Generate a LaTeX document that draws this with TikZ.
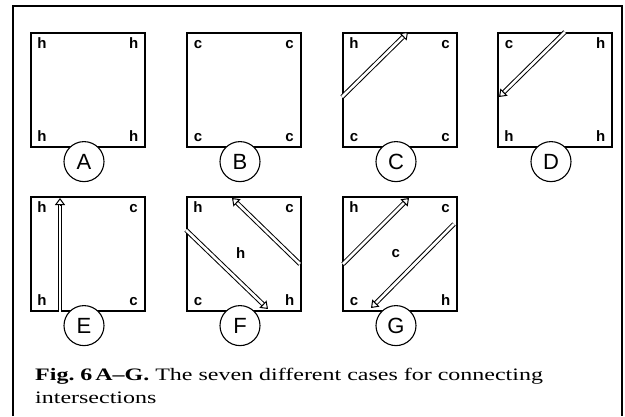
\documentclass[tikz,border=0pt]{standalone}
\usepackage{fontspec}
\setmainfont{Liberation Serif}
\setsansfont{Liberation Sans}
\newfontfamily\capfont[FakeStretch=1.37, Ligatures=TeX]{Liberation Serif}
\usetikzlibrary{arrows.meta,calc}

\newcommand\hollowarrow[2]{%
\draw[arrow shaft, shorten >=5pt] (#1) -- (#2);
\draw[arrow head] ($(#2)!7pt!(#1)$) -- (#2);
}

\begin{document}
\begin{tikzpicture}[x=1pt, y=-1pt,
  box/.style={draw, line width=1.6pt, minimum size=114pt, inner sep=0pt, anchor=north west},
  corner/.style={font=\fontsize{15}{15}\sffamily\bfseries, anchor=base, inner sep=0pt},
  tag/.style={circle, draw, fill=white, line width=1.1pt, minimum size=40pt, inner sep=0pt, font=\fontsize{22}{22}\sffamily},
  arrow shaft/.style={double=white, double distance=2.6pt, line width=1pt},
  arrow head/.style={line width=1pt, -{Triangle[length=7pt, width=10pt, fill=white]}},
  frame/.style={line width=1.3pt}]
\useasboundingbox (0,0) rectangle (625,416);
\draw[frame] (13,416) -- (13,6) -- (622,6) -- (622,416);
\foreach \n/\x/\y/\tl/\tr/\bl/\br in {A/30/32/h/h/h/h, B/186/32/c/c/c/c, C/342/32/h/c/c/c, D/497/32/c/h/h/h,
    E/30/196/h/c/h/c, F/186/196/h/c/c/h, G/342/196/h/c/c/h} {
  \node[box] (\n) at (\x,\y) {};
  \node[corner] (\n-tl) at ($(\n.north west)+(12,16)$) {\tl};
  \node[corner] (\n-tr) at ($(\n.north east)+(-12,16)$) {\tr};
  \node[corner] (\n-bl) at ($(\n.south west)+(12,-6)$) {\bl};
  \node[corner] (\n-br) at ($(\n.south east)+(-12,-6)$) {\br};
  \node[tag] (\n-tag) at ($(\n.south west)+(54,14)$) {\n};
}
\node[corner] (F-mid) at ($(F.center)+(-3,5)$) {h};
\node[corner] (G-mid) at ($(G.center)+(-4,4)$) {c};
\coordinate (C-from) at ($(C.north west)+(0,65)$);
\coordinate (C-to) at ($(C.north west)+(66,0)$);
\coordinate (D-from) at ($(D.north west)+(68,0)$);
\coordinate (D-to) at ($(D.north west)+(2,65)$);
\coordinate (E-from) at ($(E.south west)+(30,0)$);
\coordinate (E-to) at ($(E.north west)+(30,2)$);
\coordinate (F-from1) at ($(F.north west)+(114,68)$);
\coordinate (F-to1) at ($(F.north west)+(46,2)$);
\coordinate (F-from2) at ($(F.north west)+(0,34)$);
\coordinate (F-to2) at ($(F.north west)+(82,113)$);
\coordinate (G-from1) at ($(G.north west)+(1,68)$);
\coordinate (G-to1) at ($(G.north west)+(67,2)$);
\coordinate (G-from2) at ($(G.north west)+(112,28)$);
\coordinate (G-to2) at ($(G.north west)+(29,112)$);
\hollowarrow{C-from}{C-to}
\hollowarrow{D-from}{D-to}
\hollowarrow{E-from}{E-to}
\hollowarrow{F-from1}{F-to1}
\hollowarrow{F-from2}{F-to2}
\hollowarrow{G-from1}{G-to1}
\hollowarrow{G-from2}{G-to2}
\node[anchor=base west, align=left, inner sep=0pt, font=\capfont\fontsize{17.5}{23}\selectfont] (caption) at (35,403)
  {\textbf{Fig.~6\,A--G.} The seven different cases for connecting\\intersections};
\end{tikzpicture}
\end{document}
